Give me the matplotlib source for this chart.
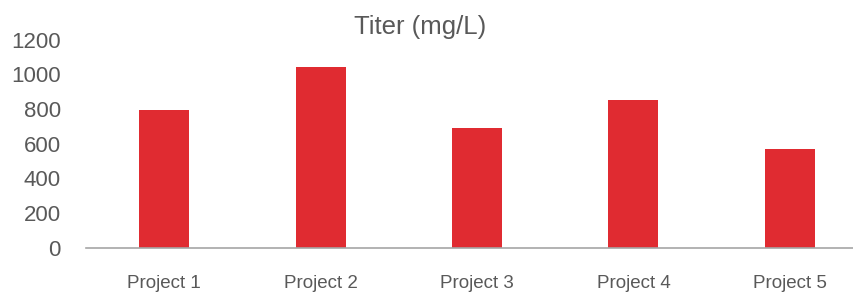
import matplotlib.pyplot as plt
import numpy as np

projects = ['Project 1', 'Project 2', 'Project 3', 'Project 4', 'Project 5']
titer = [795, 1040, 690, 850, 570]
yticks = [0, 200, 400, 600, 800, 1000, 1200]

plt.rcParams['font.family'] = ['Liberation Sans', 'DejaVu Sans']

fig = plt.figure(figsize=(8.54, 2.94), dpi=100)
# plot area runs past the right edge, as in the reference
ax = fig.add_axes([86/854, 46.3/294, 782/854, 208.2/294])

x = np.arange(len(projects))
ax.bar(x, titer, width=0.32, color='#E02B31')

ax.set_xlim(-0.5, len(projects) - 0.5)
ax.set_ylim(0, 1200)
ax.set_yticks(yticks)
ax.set_xticks(x)
ax.set_xticklabels(projects)

for s in ['top', 'right', 'left']:
    ax.spines[s].set_visible(False)
ax.spines['bottom'].set_color('#A6A6A6')
ax.spines['bottom'].set_linewidth(1.2)
ax.tick_params(axis='y', length=0, pad=18, labelsize=16, labelcolor='#595959')
ax.tick_params(axis='x', length=0, pad=20, labelsize=13.5, labelcolor='#595959')

fig.text(420/854, 1 - 27/294, 'Titer (mg/L)', ha='center', va='center',
         fontsize=18.5, color='#595959')

fig.savefig('out.png', dpi=100)
